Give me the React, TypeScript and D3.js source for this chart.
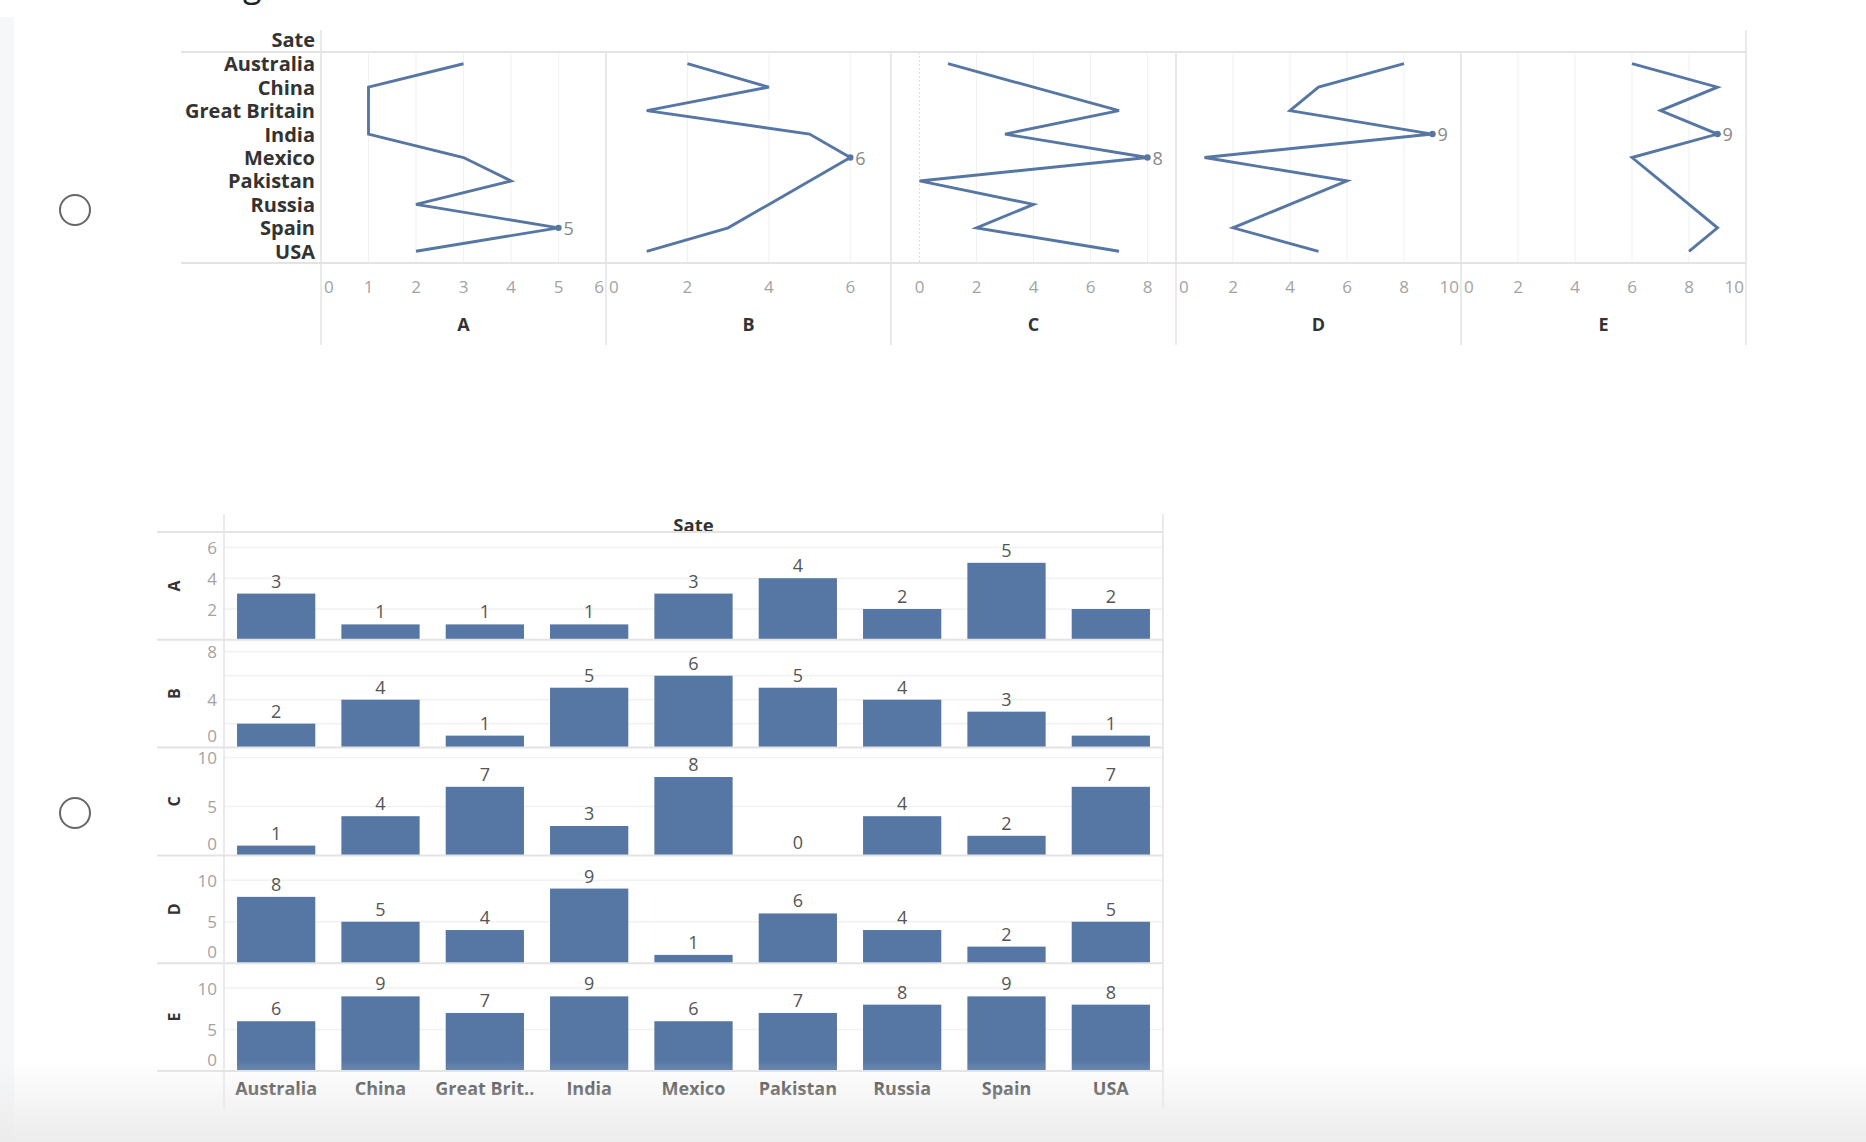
import React from "react";
import * as d3 from "d3";

const countries = ["Australia", "China", "Great Britain", "India", "Mexico", "Pakistan", "Russia", "Spain", "USA"];
const barLabels = ["Australia", "China", "Great Brit..", "India", "Mexico", "Pakistan", "Russia", "Spain", "USA"];
const measures = ["A", "B", "C", "D", "E"];

const valuesA = [3, 1, 1, 1, 3, 4, 2, 5, 2];
const valuesB = [2, 4, 1, 5, 6, 5, 4, 3, 1];
const valuesC = [1, 4, 7, 3, 8, 0, 4, 2, 7];
const valuesD = [8, 5, 4, 9, 1, 6, 4, 2, 5];
const valuesE = [6, 9, 7, 9, 6, 7, 8, 9, 8];
const series = [valuesA, valuesB, valuesC, valuesD, valuesE];

// line panels (top view)
const lineDomains = [[0, 6], [0, 7], [-1, 9], [0, 10], [0, 10]];
const lineTicks = [[0, 1, 2, 3, 4, 5, 6], [0, 2, 4, 6], [0, 2, 4, 6, 8], [0, 2, 4, 6, 8, 10], [0, 2, 4, 6, 8, 10]];
const lineLabelAt = ["Spain", "Mexico", "Mexico", "India", "India"];

// bar rows (bottom view)
const barDomains = [[0, 7], [0, 9], [0, 11], [0, 13], [0, 13]];
const barTicks = [[2, 4, 6], [0, 4, 8], [0, 5, 10], [0, 5, 10], [0, 5, 10]];
const barGrid = [[2, 4, 6], [2, 4, 6, 8], [5, 10], [5, 10], [5, 10]];

const W = 1866;
const H = 1142;
const BLUE = "#5677a4";
const RULE = "#e3e3e3";
const GRID = "#f1f1f1";
const DARK = "#333";
const TICK = "#a3a3a3";
const FONT = "'Open Sans', sans-serif";

function LinePanels() {
  const x0 = 321;
  const pw = 285;
  const top = 52;
  const bottom = 263;
  const y = d3.scalePoint().domain(countries).range([top, bottom]).padding(0.5);

  return (
    <g>
      <text x={315} y={39} textAnchor="end" dominantBaseline="central" fontSize={20} fontWeight={700} fill={DARK}>
        Sate
      </text>
      {countries.map((c) => (
        <text key={c} x={315} y={y(c)} textAnchor="end" dominantBaseline="central" fontSize={20} fontWeight={700} fill={DARK}>
          {c}
        </text>
      ))}
      {measures.map((m, i) => {
        const px = x0 + i * pw;
        const x = d3.scaleLinear().domain(lineDomains[i]).range([px, px + pw]);
        const vals = series[i];
        const line = d3
          .line<number>()
          .x((v) => x(v))
          .y((_, j) => y(countries[j]) as number);
        const li = countries.indexOf(lineLabelAt[i]);
        return (
          <g key={m}>
            {lineTicks[i].map((t) => (
              <line key={t} x1={x(t)} x2={x(t)} y1={top} y2={bottom} stroke={t === 0 && lineDomains[i][0] < 0 ? "#ddd" : GRID} strokeDasharray={t === 0 && lineDomains[i][0] < 0 ? "2,2" : undefined} strokeWidth={1} />
            ))}
            {lineTicks[i].map((t) => {
              const s = String(t);
              const w = s.length * 10;
              let tx = x(t);
              let anchor = "middle";
              if (tx - w / 2 < px + 2) {
                tx = px + 3;
                anchor = "start";
              } else if (tx + w / 2 > px + pw - 1) {
                tx = px + pw - 2;
                anchor = "end";
              }
              return (
                <text key={t} x={tx} y={286} textAnchor={anchor} dominantBaseline="central" fontSize={17} fill={TICK}>
                  {s}
                </text>
              );
            })}
            <text x={px + pw / 2} y={324} textAnchor="middle" dominantBaseline="central" fontSize={18} fontWeight={700} fill={DARK}>
              {m}
            </text>
            <path d={line(vals) || ""} fill="none" stroke={BLUE} strokeWidth={2.9} strokeLinejoin="miter" />
            <circle cx={x(vals[li])} cy={y(countries[li])} r={3.2} fill={BLUE} />
            <text x={x(vals[li]) + 5} y={y(countries[li])} dominantBaseline="central" fontSize={18} fill="#888">
              {vals[li]}
            </text>
            {i > 0 && <line x1={px} x2={px} y1={top} y2={345} stroke={RULE} strokeWidth={1.5} />}
          </g>
        );
      })}
      <line x1={181} x2={1746} y1={top} y2={top} stroke={RULE} strokeWidth={2} />
      <line x1={181} x2={1746} y1={bottom} y2={bottom} stroke={RULE} strokeWidth={2} />
      <line x1={x0} x2={x0} y1={30} y2={345} stroke={RULE} strokeWidth={1.5} />
      <line x1={1746} x2={1746} y1={30} y2={345} stroke={RULE} strokeWidth={1.5} />
    </g>
  );
}

function BarRows() {
  const left = 224;
  const right = 1163;
  const top = 532;
  const rh = 107.8;
  const x = d3.scaleBand().domain(countries).range([left, right]).paddingInner(0.25).paddingOuter(0.125);

  return (
    <g>
      <text x={(left + right) / 2} y={524} textAnchor="middle" dominantBaseline="central" fontSize={18.5} fontWeight={700} fill={DARK}>
        Sate
      </text>
      {measures.map((m, i) => {
        const y0 = top + i * rh;
        const y1 = y0 + rh;
        const y = d3.scaleLinear().domain(barDomains[i]).range([y1, y0]);
        const vals = series[i];
        return (
          <g key={m}>
            {barGrid[i].map((t) => (
              <line key={t} x1={left} x2={right} y1={y(t)} y2={y(t)} stroke={GRID} strokeWidth={1.5} />
            ))}
            {barTicks[i].map((t) => {
              let ty = y(t);
              if (ty + 8 > y1) ty = y1 - 12;
              return (
                <text key={t} x={217} y={ty} textAnchor="end" dominantBaseline="central" fontSize={17} fill={TICK}>
                  {t}
                </text>
              );
            })}
            <text transform={`translate(174,${(y0 + y1) / 2}) rotate(-90)`} textAnchor="middle" dominantBaseline="central" fontSize={16} fontWeight={700} fill={DARK}>
              {m}
            </text>
            {vals.map((v, j) => (
              <g key={countries[j]}>
                <rect x={x(countries[j])} y={y(v)} width={x.bandwidth()} height={y1 - y(v)} fill={BLUE} />
                <text x={(x(countries[j]) as number) + x.bandwidth() / 2} y={y(v) - 13} textAnchor="middle" dominantBaseline="central" fontSize={18} fill="#555">
                  {v}
                </text>
              </g>
            ))}
            <line x1={157} x2={right} y1={y1} y2={y1} stroke={RULE} strokeWidth={2} />
          </g>
        );
      })}
      {barLabels.map((c, j) => (
        <text key={c} x={(x(countries[j]) as number) + x.bandwidth() / 2} y={1088} textAnchor="middle" dominantBaseline="central" fontSize={18} fontWeight={700} fill={DARK}>
          {c}
        </text>
      ))}
      <line x1={157} x2={right} y1={top} y2={top} stroke={RULE} strokeWidth={2} />
      <line x1={left} x2={left} y1={514} y2={1109} stroke={RULE} strokeWidth={1.5} />
      <line x1={right} x2={right} y1={514} y2={1109} stroke={RULE} strokeWidth={1.5} />
    </g>
  );
}

export default function App() {
  return (
    <div style={{ position: "absolute", left: 0, top: 0 }}>
      <svg width={W} height={H} viewBox={`0 0 ${W} ${H}`} fontFamily={FONT} style={{ display: "block" }}>
        <defs>
          <linearGradient id="fade" x1="0" y1="0" x2="0" y2="1">
            <stop offset="0" stopColor="#ececec" stopOpacity={0} />
            <stop offset="1" stopColor="#ececec" stopOpacity={1} />
          </linearGradient>
        </defs>
        <rect width={W} height={H} fill="#fff" />
        <rect x={0} y={17} width={14} height={H - 17} fill="#f6f7f9" />
        <text x={243} y={-3} fontSize={34} fill="#222">g</text>
        <circle cx={75} cy={210} r={15} fill="none" stroke="#666" strokeWidth={2} />
        <circle cx={75} cy={813} r={15} fill="none" stroke="#666" strokeWidth={2} />
        <LinePanels />
        <BarRows />
        <rect x={0} y={1060} width={W} height={H - 1060} fill="url(#fade)" />
      </svg>
    </div>
  );
}
